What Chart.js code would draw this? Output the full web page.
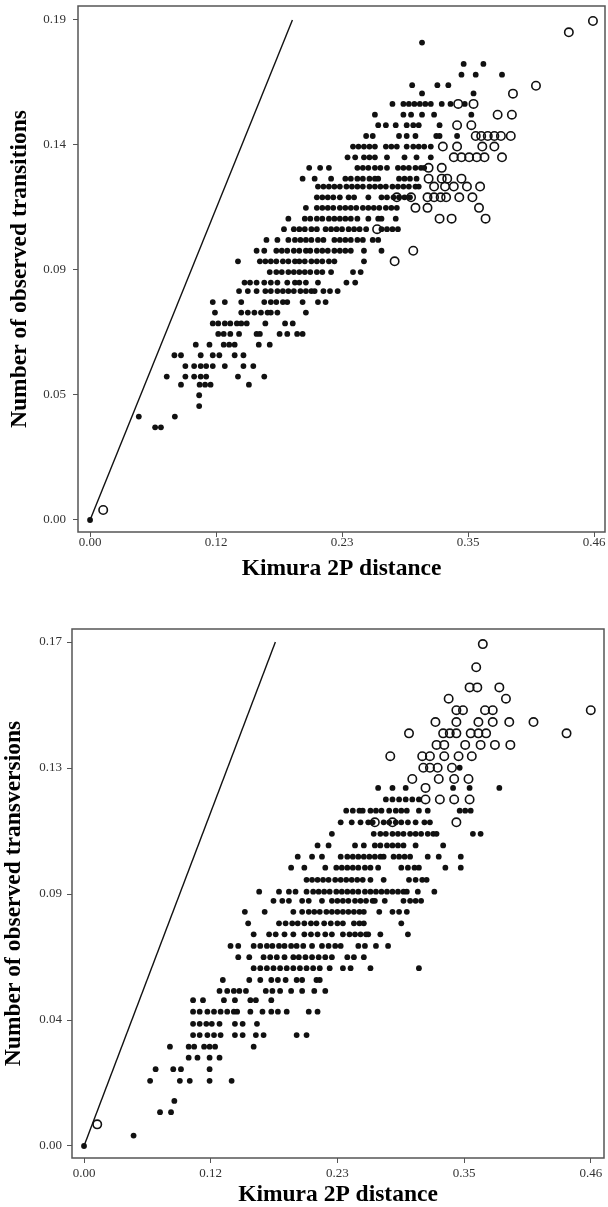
<!DOCTYPE html>
<html>
<head>
<meta charset="utf-8">
<script src="https://cdn.jsdelivr.net/npm/chart.js@4.4.1/dist/chart.umd.min.js"></script>
<style>
  body { margin: 0; background: #fff; }
  #topBox { position: absolute; left: 0; top: 0; width: 608px; height: 590px; }
  #bottomBox { position: absolute; left: 0; top: 590px; width: 608px; height: 617px; }
</style>
</head>
<body>
<div id="topBox"><canvas id="topChart" width="608" height="590"></canvas></div>
<div id="bottomBox"><canvas id="bottomChart" width="608" height="617"></canvas></div>
<script>
const xTickValues = [0, 0.115, 0.23, 0.345, 0.46];
const xTickLabels = ["0.00", "0.12", "0.23", "0.35", "0.46"];
const topYTickValues = [0, 0.0475, 0.095, 0.1425, 0.19];
const topYTickLabels = ["0.00", "0.05", "0.09", "0.14", "0.19"];
const bottomYTickValues = [0, 0.0425, 0.085, 0.1275, 0.17];
const bottomYTickLabels = ["0.00", "0.04", "0.09", "0.13", "0.17"];

// each row: [y, [x values]]
const topFilledRows = [
  [0.1814, [0.303]],
  [0.1733, [0.341, 0.359]],
  [0.1692, [0.339, 0.352, 0.376]],
  [0.1652, [0.294, 0.317, 0.327]],
  [0.1621, [0.303, 0.350]],
  [0.1581, [0.276, 0.286, 0.291, 0.296, 0.301, 0.306, 0.311, 0.321, 0.329, 0.342]],
  [0.1540, [0.260, 0.286, 0.293, 0.303, 0.314, 0.348]],
  [0.1500, [0.263, 0.270, 0.279, 0.289, 0.295, 0.300, 0.319]],
  [0.1459, [0.252, 0.258, 0.282, 0.289, 0.297, 0.316, 0.319, 0.335]],
  [0.1419, [0.240, 0.245, 0.250, 0.255, 0.260, 0.270, 0.275, 0.280, 0.289, 0.295, 0.300, 0.305, 0.311]],
  [0.1378, [0.235, 0.242, 0.250, 0.255, 0.260, 0.271, 0.287, 0.298, 0.311]],
  [0.1338, [0.200, 0.210, 0.218, 0.244, 0.249, 0.254, 0.260, 0.265, 0.271, 0.281, 0.286, 0.291, 0.297, 0.302, 0.305]],
  [0.1297, [0.194, 0.205, 0.220, 0.233, 0.238, 0.244, 0.249, 0.255, 0.260, 0.263, 0.282, 0.287, 0.292, 0.298]],
  [0.1267, [0.208, 0.213, 0.218, 0.223, 0.228, 0.234, 0.239, 0.244, 0.249, 0.255, 0.260, 0.265, 0.270, 0.276, 0.281, 0.286, 0.291, 0.297, 0.300]],
  [0.1226, [0.207, 0.212, 0.217, 0.222, 0.228, 0.236, 0.241, 0.254, 0.266, 0.271, 0.277, 0.282, 0.287, 0.292]],
  [0.1186, [0.197, 0.207, 0.212, 0.217, 0.222, 0.228, 0.233, 0.238, 0.243, 0.249, 0.254, 0.259, 0.264, 0.270, 0.275, 0.280]],
  [0.1145, [0.181, 0.196, 0.201, 0.207, 0.212, 0.218, 0.223, 0.228, 0.233, 0.238, 0.244, 0.254, 0.263, 0.266, 0.279]],
  [0.1105, [0.177, 0.186, 0.191, 0.196, 0.202, 0.207, 0.215, 0.220, 0.225, 0.230, 0.236, 0.241, 0.246, 0.252, 0.266, 0.271, 0.276, 0.281]],
  [0.1064, [0.161, 0.171, 0.181, 0.187, 0.192, 0.197, 0.202, 0.208, 0.213, 0.223, 0.228, 0.233, 0.238, 0.244, 0.249, 0.258, 0.263]],
  [0.1023, [0.152, 0.159, 0.170, 0.175, 0.180, 0.186, 0.191, 0.197, 0.201, 0.207, 0.212, 0.217, 0.223, 0.228, 0.233, 0.238, 0.250, 0.266]],
  [0.0983, [0.135, 0.155, 0.160, 0.165, 0.170, 0.176, 0.181, 0.187, 0.191, 0.196, 0.202, 0.207, 0.212, 0.218, 0.223, 0.250]],
  [0.0942, [0.164, 0.170, 0.175, 0.181, 0.186, 0.191, 0.196, 0.201, 0.207, 0.212, 0.220, 0.240, 0.247]],
  [0.0902, [0.141, 0.146, 0.152, 0.159, 0.165, 0.171, 0.180, 0.187, 0.191, 0.197, 0.208, 0.234, 0.242]],
  [0.0870, [0.136, 0.144, 0.152, 0.160, 0.165, 0.171, 0.176, 0.181, 0.186, 0.192, 0.197, 0.202, 0.205, 0.213, 0.219, 0.226]],
  [0.0828, [0.112, 0.123, 0.138, 0.159, 0.165, 0.170, 0.176, 0.180, 0.194, 0.208, 0.215]],
  [0.0788, [0.114, 0.138, 0.144, 0.150, 0.156, 0.162, 0.165, 0.171, 0.197]],
  [0.0747, [0.112, 0.117, 0.123, 0.128, 0.134, 0.138, 0.143, 0.160, 0.178, 0.185]],
  [0.0707, [0.117, 0.122, 0.128, 0.136, 0.152, 0.155, 0.173, 0.180, 0.189, 0.194]],
  [0.0666, [0.0965, 0.109, 0.122, 0.127, 0.132, 0.154, 0.164]],
  [0.0626, [0.077, 0.083, 0.101, 0.112, 0.118, 0.132, 0.140]],
  [0.0585, [0.087, 0.095, 0.101, 0.106, 0.112, 0.123, 0.140, 0.149]],
  [0.0545, [0.070, 0.087, 0.095, 0.101, 0.106, 0.135, 0.159]],
  [0.0514, [0.083, 0.100, 0.105, 0.110, 0.145]],
  [0.0474, [0.0996]],
  [0.0433, [0.0996]],
  [0.0393, [0.0445, 0.0774]],
  [0.0352, [0.0594, 0.0647]],
  [0, [0]]
];

const topOpenRows = [
  [0.1896, [0.459]],
  [0.1853, [0.437]],
  [0.1650, [0.407]],
  [0.1620, [0.386]],
  [0.1581, [0.336, 0.350]],
  [0.1540, [0.372, 0.385]],
  [0.1500, [0.335, 0.348]],
  [0.1459, [0.352, 0.357, 0.363, 0.369, 0.375, 0.384]],
  [0.1419, [0.322, 0.335, 0.358, 0.369]],
  [0.1378, [0.332, 0.339, 0.346, 0.353, 0.360, 0.376]],
  [0.1338, [0.309, 0.321]],
  [0.1297, [0.309, 0.321, 0.326, 0.339]],
  [0.1267, [0.314, 0.324, 0.332, 0.344, 0.356]],
  [0.1226, [0.280, 0.293, 0.308, 0.314, 0.320, 0.325, 0.337, 0.349]],
  [0.1186, [0.297, 0.308, 0.355]],
  [0.1145, [0.319, 0.330, 0.361]],
  [0.1105, [0.262]],
  [0.1023, [0.295]],
  [0.0983, [0.278]],
  [0.0038, [0.012]]
];

const bottomFilledRows = [
  [0.1276, [0.341]],
  [0.1208, [0.267, 0.280, 0.292, 0.335, 0.350, 0.377]],
  [0.1169, [0.274, 0.280, 0.286, 0.292, 0.298, 0.304]],
  [0.1131, [0.238, 0.244, 0.250, 0.253, 0.260, 0.265, 0.270, 0.277, 0.283, 0.288, 0.293, 0.304, 0.312, 0.341, 0.346, 0.351]],
  [0.1092, [0.233, 0.243, 0.251, 0.258, 0.262, 0.272, 0.277, 0.283, 0.288, 0.294, 0.301, 0.309, 0.314]],
  [0.1053, [0.225, 0.263, 0.269, 0.274, 0.280, 0.285, 0.290, 0.296, 0.301, 0.306, 0.312, 0.317, 0.320, 0.353, 0.360]],
  [0.1014, [0.212, 0.222, 0.246, 0.254, 0.264, 0.269, 0.275, 0.280, 0.285, 0.290, 0.301, 0.326]],
  [0.0976, [0.194, 0.207, 0.216, 0.233, 0.239, 0.244, 0.249, 0.254, 0.259, 0.264, 0.269, 0.272, 0.281, 0.286, 0.291, 0.296, 0.312, 0.322, 0.342]],
  [0.0939, [0.188, 0.200, 0.219, 0.229, 0.234, 0.239, 0.244, 0.249, 0.255, 0.260, 0.267, 0.288, 0.294, 0.300, 0.304, 0.328, 0.342]],
  [0.0898, [0.202, 0.207, 0.212, 0.217, 0.222, 0.228, 0.233, 0.238, 0.243, 0.248, 0.253, 0.260, 0.272, 0.295, 0.301, 0.307, 0.311]],
  [0.0858, [0.159, 0.177, 0.186, 0.192, 0.202, 0.208, 0.213, 0.218, 0.223, 0.229, 0.234, 0.239, 0.244, 0.249, 0.255, 0.260, 0.265, 0.270, 0.275, 0.280, 0.285, 0.290, 0.293, 0.303, 0.318]],
  [0.0827, [0.172, 0.180, 0.186, 0.198, 0.204, 0.216, 0.225, 0.230, 0.235, 0.240, 0.246, 0.251, 0.256, 0.262, 0.264, 0.273, 0.290, 0.296, 0.301, 0.306]],
  [0.0790, [0.146, 0.164, 0.190, 0.198, 0.204, 0.209, 0.214, 0.220, 0.225, 0.230, 0.235, 0.240, 0.245, 0.250, 0.254, 0.268, 0.280, 0.286, 0.293]],
  [0.0751, [0.149, 0.177, 0.183, 0.189, 0.194, 0.200, 0.206, 0.211, 0.218, 0.224, 0.230, 0.235, 0.245, 0.250, 0.254, 0.288]],
  [0.0714, [0.154, 0.168, 0.174, 0.182, 0.190, 0.200, 0.206, 0.212, 0.219, 0.225, 0.235, 0.241, 0.246, 0.251, 0.256, 0.258, 0.269, 0.294]],
  [0.0675, [0.133, 0.140, 0.154, 0.160, 0.166, 0.171, 0.177, 0.182, 0.188, 0.193, 0.199, 0.207, 0.216, 0.222, 0.228, 0.233, 0.249, 0.255, 0.265, 0.276]],
  [0.0637, [0.140, 0.150, 0.163, 0.169, 0.175, 0.182, 0.190, 0.195, 0.201, 0.207, 0.213, 0.219, 0.225, 0.239, 0.245, 0.254]],
  [0.0600, [0.154, 0.160, 0.166, 0.172, 0.178, 0.184, 0.190, 0.196, 0.202, 0.208, 0.214, 0.223, 0.235, 0.242, 0.260, 0.304]],
  [0.0560, [0.126, 0.150, 0.160, 0.170, 0.176, 0.183, 0.193, 0.198, 0.211, 0.214]],
  [0.0523, [0.123, 0.130, 0.136, 0.141, 0.147, 0.165, 0.171, 0.178, 0.188, 0.198, 0.209, 0.219]],
  [0.0492, [0.099, 0.108, 0.127, 0.137, 0.151, 0.156, 0.170]],
  [0.0453, [0.099, 0.105, 0.112, 0.118, 0.124, 0.130, 0.136, 0.139, 0.151, 0.162, 0.170, 0.176, 0.184, 0.204, 0.212]],
  [0.0412, [0.099, 0.105, 0.111, 0.116, 0.123, 0.137, 0.144, 0.157]],
  [0.0374, [0.099, 0.105, 0.112, 0.118, 0.124, 0.137, 0.144, 0.156, 0.163, 0.193, 0.202]],
  [0.0335, [0.078, 0.095, 0.100, 0.109, 0.114, 0.119, 0.154]],
  [0.0298, [0.095, 0.103, 0.114, 0.123]],
  [0.0259, [0.065, 0.081, 0.088, 0.114]],
  [0.0220, [0.060, 0.087, 0.096, 0.114, 0.134]],
  [0.0152, [0.082]],
  [0.0114, [0.069, 0.079]],
  [0.0035, [0.045]],
  [0, [0]]
];

const bottomOpenRows = [
  [0.1693, [0.362]],
  [0.1615, [0.356]],
  [0.1547, [0.350, 0.357, 0.377]],
  [0.1509, [0.331, 0.383]],
  [0.1470, [0.338, 0.344, 0.364, 0.371, 0.460]],
  [0.1430, [0.319, 0.338, 0.358, 0.371, 0.386, 0.408]],
  [0.1392, [0.295, 0.326, 0.332, 0.338, 0.351, 0.358, 0.365, 0.438]],
  [0.1353, [0.320, 0.327, 0.346, 0.360, 0.373, 0.387]],
  [0.1315, [0.278, 0.307, 0.314, 0.327, 0.340, 0.352]],
  [0.1276, [0.308, 0.314, 0.321, 0.334]],
  [0.1238, [0.298, 0.322, 0.336, 0.349]],
  [0.1208, [0.310]],
  [0.1169, [0.310, 0.323, 0.336, 0.350]],
  [0.1092, [0.264, 0.280, 0.338]],
  [0.0073, [0.012]]
];

const topLine = [[0, 0], [0.1847, 0.19]];
const bottomLine = [[0, 0], [0.1737, 0.17]];

const serif = "'Liberation Serif', 'Times New Roman', serif";

function toPoints(rows) {
  let pts = [];
  rows.forEach(r => r[1].forEach(x => pts.push({ x: x, y: r[0] })));
  return pts;
}

const framePlugin = {
  id: "frame",
  afterDraw(chart) {
    const a = chart.chartArea;
    const ctx = chart.ctx;
    ctx.save();
    ctx.strokeStyle = "#555";
    ctx.lineWidth = 1.5;
    ctx.strokeRect(a.left, a.top, a.right - a.left, a.bottom - a.top);
    ctx.restore();
  }
};

function makeChart(id, o) {
  return new Chart(document.getElementById(id).getContext("2d"), {
    type: "scatter",
    data: {
      datasets: [
        {
          data: o.line.map(p => ({ x: p[0], y: p[1] })),
          showLine: true,
          borderColor: "#111",
          borderWidth: 1.4,
          pointRadius: 0,
        },
        {
          data: toPoints(o.filled),
          backgroundColor: "#111",
          borderWidth: 0,
          pointRadius: 2.9,
        },
        {
          data: toPoints(o.open),
          backgroundColor: "rgba(0,0,0,0)",
          borderColor: "#111",
          borderWidth: 1.6,
          pointRadius: 4.2,
        },
      ],
    },
    options: {
      responsive: false,
      animation: false,
      layout: { padding: o.padding, autoPadding: false },
      plugins: {
        legend: { display: false },
        tooltip: { enabled: false },
      },
      scales: {
        x: {
          type: "linear",
          min: o.xMin,
          max: o.xMax,
          // fixed axis box, no extra room for end labels
          afterFit: s => { s.height = o.xHeight; s.paddingLeft = 0; s.paddingRight = 0; },
          afterBuildTicks: s => { s.ticks = xTickValues.map(v => ({ value: v })); },
          grid: { drawOnChartArea: false, drawTicks: true, tickLength: 5, color: "#555" },
          border: { display: false },
          ticks: {
            padding: o.xTickPad,
            color: "#333",
            font: { family: serif, size: 13, lineHeight: 1 },
            maxRotation: 0,
            callback: (v, i) => xTickLabels[i],
          },
          title: {
            display: true,
            text: "Kimura 2P distance",
            color: "#000",
            font: { family: serif, size: 23.5, weight: "bold", lineHeight: 1 },
            padding: { top: 0, bottom: o.xTitlePad },
          },
        },
        y: {
          type: "linear",
          min: o.yMin,
          max: o.yMax,
          afterFit: s => { s.width = o.yWidth; s.paddingTop = 0; s.paddingBottom = 0; },
          afterBuildTicks: s => { s.ticks = o.yTicks.map(v => ({ value: v })); },
          grid: { drawOnChartArea: false, drawTicks: true, tickLength: 5, color: "#555" },
          border: { display: false },
          ticks: {
            padding: o.yTickPad,
            color: "#333",
            font: { family: serif, size: 13, lineHeight: 1 },
            callback: (v, i) => o.yLabels[i],
          },
          title: {
            display: true,
            text: o.yTitle,
            color: "#000",
            font: { family: serif, size: 23.5, weight: "bold", lineHeight: 1 },
            padding: { top: o.yTitlePad, bottom: 0 },
          },
        },
      },
    },
    plugins: [framePlugin],
  });
}

let topChart = makeChart("topChart", {
  filled: topFilledRows,
  open: topOpenRows,
  line: topLine,
  yTicks: topYTickValues,
  yLabels: topYTickLabels,
  yTitle: "Number of observed transitions",
  xMin: -0.011, xMax: 0.47,
  yMin: -0.00456, yMax: 0.1953,
  padding: { left: 0, top: 6, right: 3, bottom: 0 },
  yWidth: 78, xHeight: 58,
  xTickPad: -1, yTickPad: 7,
  xTitlePad: 9, yTitlePad: 8,
});

let bottomChart = makeChart("bottomChart", {
  filled: bottomFilledRows,
  open: bottomOpenRows,
  line: bottomLine,
  yTicks: bottomYTickValues,
  yLabels: bottomYTickLabels,
  yTitle: "Number of observed transversions",
  xMin: -0.0109, xMax: 0.472,
  yMin: -0.00405, yMax: 0.1744,
  padding: { left: 0, top: 39, right: 4, bottom: 0 },
  yWidth: 72, xHeight: 49,
  xTickPad: 4, yTickPad: 5,
  xTitlePad: 0, yTitlePad: 2,
});
</script>
</body>
</html>
